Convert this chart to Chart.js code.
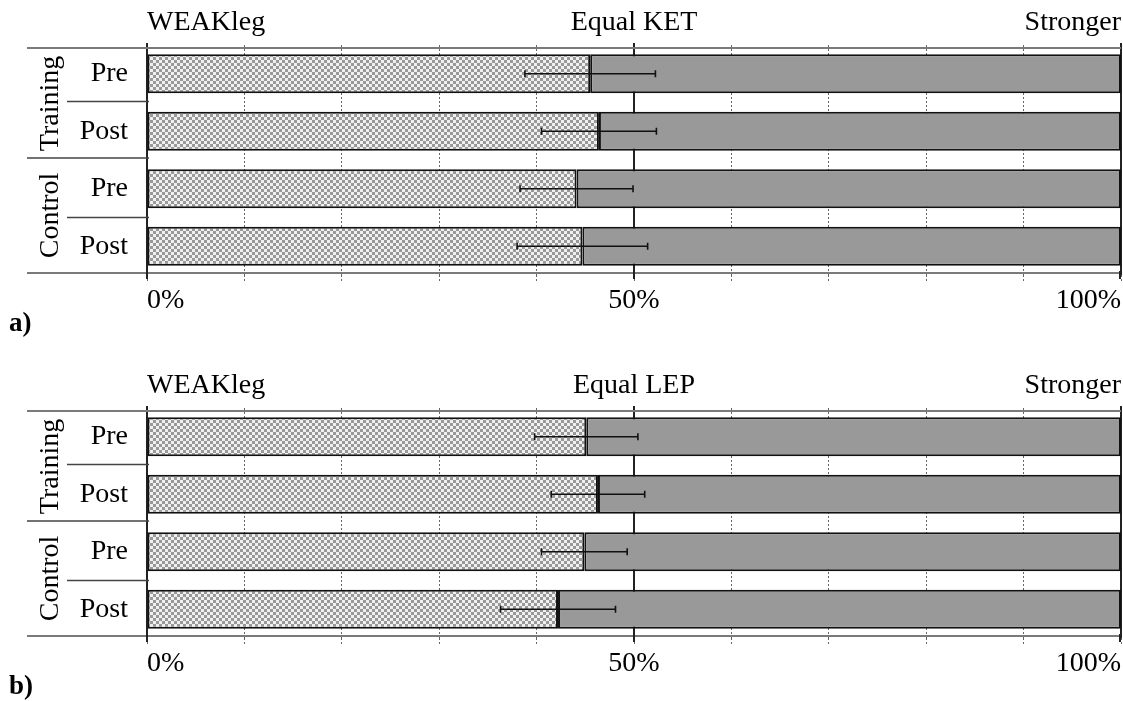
<!DOCTYPE html>
<html>
<head>
<meta charset="utf-8">
<script src="https://cdn.jsdelivr.net/npm/chart.js@4.4.1/dist/chart.umd.min.js"></script>
<style>
  html, body { margin: 0; padding: 0; background: #fff; }
  #wrap { position: relative; width: 1123px; height: 701px; overflow: hidden; background: #fff; }
  canvas { position: absolute; left: 0; }
  #ca { top: 0; }
  #cb { top: 363px; }
  .panel { position: absolute; left: 9px; font-family: "Liberation Serif", serif; font-weight: bold; font-size: 27px; line-height: 1; color: #000; }
</style>
</head>
<body>
<div id="wrap">
  <canvas id="ca" width="1123" height="340"></canvas>
  <canvas id="cb" width="1123" height="340"></canvas>
  <div class="panel" style="top:309px">a)</div>
  <div class="panel" style="top:672px">b)</div>
</div>
<script>
// ---- data ----
const categories = ['Pre', 'Post', 'Pre', 'Post'];
const groups = ['Training', 'Control'];
const ketWeak = [45.5, 46.4, 44.1, 44.7];
const ketSD = [6.7, 5.9, 5.8, 6.7];
const lepWeak = [45.1, 46.3, 44.9, 42.2];
const lepSD = [5.3, 4.8, 4.4, 5.9];
const topLabelsKET = ['WEAKleg', 'Equal KET', 'Stronger'];
const topLabelsLEP = ['WEAKleg', 'Equal LEP', 'Stronger'];
const bottomTickLabels = ['0%', '50%', '100%'];
const topTickValues = [0, 50, 100];

const FONT = '"Liberation Serif", "Times New Roman", serif';
const FSIZE = 28;

function makePattern() {
  const c = document.createElement('canvas');
  c.width = 6; c.height = 6;
  const g = c.getContext('2d');
  g.fillStyle = '#f0f0f0';
  g.fillRect(0, 0, 6, 6);
  g.fillStyle = '#999999';
  g.fillRect(0, 0, 3, 3);
  g.fillRect(3, 3, 3, 3);
  return g.createPattern(c, 'repeat');
}

const decorPlugin = {
  id: 'decor',
  beforeDatasetsDraw(chart) {
    const ctx = chart.ctx, ca = chart.chartArea, x = chart.scales.x;
    ctx.save();
    // top and bottom frame lines
    ctx.strokeStyle = '#7a7a7a';
    ctx.lineWidth = 2;
    const topY = ca.top + 3, botY = ca.bottom - 2;
    ctx.beginPath();
    ctx.moveTo(27, topY); ctx.lineTo(ca.right, topY);
    ctx.moveTo(27, botY); ctx.lineTo(ca.right, botY);
    ctx.stroke();
    // solid reference lines extend a little below the frame
    ctx.strokeStyle = '#222';
    ctx.beginPath();
    topTickValues.forEach(v => {
      const px = Math.min(x.getPixelForValue(v), ca.right - 1);
      ctx.moveTo(px, ca.bottom - 4); ctx.lineTo(px, ca.bottom + 4);
    });
    ctx.stroke();
    ctx.restore();
  },
  afterDraw(chart) {
    const ctx = chart.ctx, ca = chart.chartArea, y = chart.scales.y;
    const p = i => y.getPixelForValue(i);
    ctx.save();
    // separators
    ctx.strokeStyle = '#444';
    ctx.lineWidth = 1.5;
    ctx.beginPath();
    const s1 = (p(0) + p(1)) / 2 - 1, s2 = (p(1) + p(2)) / 2 - 2, s3 = (p(2) + p(3)) / 2;
    ctx.moveTo(67, s1); ctx.lineTo(ca.left + 2, s1);
    ctx.moveTo(27, s2); ctx.lineTo(ca.left + 2, s2);
    ctx.moveTo(67, s3); ctx.lineTo(ca.left + 2, s3);
    ctx.stroke();
    // group labels
    ctx.fillStyle = '#000';
    ctx.font = FSIZE + 'px ' + FONT;
    ctx.textAlign = 'center';
    ctx.textBaseline = 'middle';
    const g1 = (p(0) + p(1)) / 2 + 1, g2 = (p(2) + p(3)) / 2 - 2;
    [[groups[0], g1], [groups[1], g2]].forEach(([t, cy]) => {
      ctx.save();
      ctx.translate(51, cy);
      ctx.rotate(-Math.PI / 2);
      ctx.fillText(t, 0, 0);
      ctx.restore();
    });
    ctx.restore();
  }
};

const errorPlugin = {
  id: 'errbars',
  afterDatasetsDraw(chart, args, opts) {
    const ctx = chart.ctx, x = chart.scales.x, y = chart.scales.y;
    const means = opts.means, sds = opts.sds;
    ctx.save();
    ctx.strokeStyle = '#111';
    ctx.lineWidth = 1.6;
    means.forEach((m, i) => {
      const x1 = x.getPixelForValue(m - sds[i]);
      const x2 = x.getPixelForValue(m + sds[i]);
      const yy = y.getPixelForValue(i);
      ctx.beginPath();
      ctx.moveTo(x1, yy); ctx.lineTo(x2, yy);
      ctx.moveTo(x1, yy - 3.5); ctx.lineTo(x1, yy + 3.5);
      ctx.moveTo(x2, yy - 3.5); ctx.lineTo(x2, yy + 3.5);
      ctx.stroke();
    });
    ctx.restore();
  }
};

function noPad(s) { s.paddingLeft = 0; s.paddingRight = 0; }

function makeChart(id, weak, sd, topLabels) {
  const pattern = makePattern();
  return new Chart(document.getElementById(id), {
    type: 'bar',
    data: {
      labels: categories,
      datasets: [
        {
          label: 'weak',
          data: weak.map(v => [0, v]),
          backgroundColor: pattern,
          borderColor: '#111',
          borderWidth: 2,
          borderSkipped: false,
          grouped: false,
          barPercentage: 0.68,
          categoryPercentage: 1,
          xAxisID: 'x'
        },
        {
          label: 'stronger',
          data: weak.map(v => [v, 100]),
          backgroundColor: '#999999',
          borderColor: '#111',
          borderWidth: 2,
          borderSkipped: false,
          grouped: false,
          barPercentage: 0.68,
          categoryPercentage: 1,
          xAxisID: 'x'
        }
      ]
    },
    options: {
      indexAxis: 'y',
      responsive: false,
      animation: false,
      devicePixelRatio: 1,
      layout: { padding: { left: 0, right: 2, top: 0, bottom: 0 } },
      plugins: {
        legend: { display: false },
        tooltip: { enabled: false },
        errbars: { means: weak, sds: sd }
      },
      scales: {
        x: {
          type: 'linear',
          position: 'bottom',
          min: 0, max: 100,
          afterFit: s => { s.height = 65; noPad(s); },
          ticks: {
            stepSize: 10,
            autoSkip: false,
            maxRotation: 0,
            align: 'inner',
            padding: 3,
            color: '#000',
            font: { family: FONT, size: FSIZE },
            callback: v => { const k = topTickValues.indexOf(v); return k >= 0 ? bottomTickLabels[k] : ''; }
          },
          grid: {
            color: '#666',
            lineWidth: 1,
            tickLength: 6,
            tickColor: '#666',
            tickBorderDash: [2, 2]
          },
          border: { display: false, dash: [2, 2] }
        },
        xTop: {
          type: 'linear',
          position: 'top',
          min: 0, max: 100,
          afterFit: s => { s.height = 45; noPad(s); },
          ticks: {
            stepSize: 50,
            autoSkip: false,
            maxRotation: 0,
            align: 'inner',
            padding: 4,
            color: '#000',
            font: { family: FONT, size: FSIZE },
            callback: v => { const k = topTickValues.indexOf(v); return k >= 0 ? topLabels[k] : ''; }
          },
          grid: {
            color: '#222',
            lineWidth: 2,
            tickLength: 2,
            tickColor: '#222'
          },
          border: { display: false }
        },
        y: {
          type: 'category',
          offset: true,
          afterFit: s => { s.width = 147; },
          ticks: {
            color: '#000',
            padding: 19,
            font: { family: FONT, size: FSIZE }
          },
          grid: { display: false, drawTicks: false },
          border: { display: false }
        }
      }
    },
    plugins: [decorPlugin, errorPlugin]
  });
}

makeChart('ca', ketWeak, ketSD, topLabelsKET);
makeChart('cb', lepWeak, lepSD, topLabelsLEP);
</script>
</body>
</html>
